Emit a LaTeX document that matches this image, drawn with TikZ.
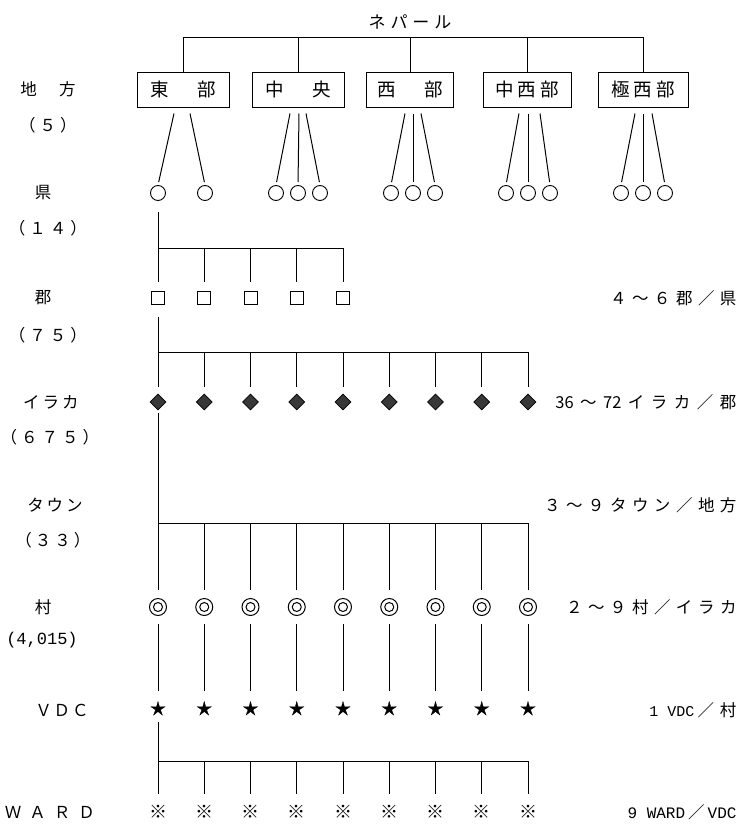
\documentclass[tikz,border=0pt]{standalone}
\usepackage{fontspec}
\setmainfont{Noto Sans CJK JP}
\newfontfamily\monof{Liberation Mono}
\usetikzlibrary{shapes.geometric,calc}
\makeatletter
\newcommand\tk[2]{\begingroup\def\tk@sep{}\@tfor\tk@c:=#2\do{\tk@sep\tk@c\def\tk@sep{\hspace*{#1}}}\endgroup}
\makeatother
\begin{document}
\begin{tikzpicture}[x=1pt,y=-1pt,line width=1pt,
  lvbox/.style={draw,line width=1pt,minimum height=35pt,inner sep=0pt,font=\fontsize{18.5}{21}\selectfont},
  pref/.style={circle,draw,minimum size=15pt,inner sep=0pt,line width=0.9pt},
  dist/.style={rectangle,draw,minimum size=13pt,inner sep=0pt,line width=1pt},
  ilaka/.style={diamond,draw,fill=black!78,minimum width=16pt,minimum height=16pt,inner sep=0pt,line width=0.6pt},
  vill/.style={circle,draw,minimum size=17pt,inner sep=0pt,line width=1pt,
     path picture={\draw[line width=1pt] (path picture bounding box.center) circle (4.5pt);}},
  vdc/.style={star,star points=5,star point ratio=2.9,fill,draw,minimum size=15pt,inner sep=0pt,line width=0.3pt},
  ward/.style={minimum size=16pt,inner sep=0pt,font=\fontsize{18}{18}\selectfont},
  lbl/.style={font=\fontsize{16.5}{19}\selectfont,inner sep=0pt},
  rlbl/.style={lbl,anchor=east}]
\fill[white] (0,0) rectangle (742,825);
\useasboundingbox (0,0) rectangle (742,825);

\node[lbl,font=\fontsize{17}{20}\selectfont] (title) at (410,22) {\tk{5pt}{ネパール}};

\node[lvbox,minimum width=92pt] (b1) at (183,89.5) {\tk{5pt}{東　部}};
\node[lvbox,minimum width=92pt] (b2) at (298,89.5) {\tk{5pt}{中　央}};
\node[lvbox,minimum width=87pt] (b3) at (410,89.5) {\tk{5pt}{西　部}};
\node[lvbox,minimum width=88pt] (b4) at (527,89.5) {\tk{4pt}{中西部}};
\node[lvbox,minimum width=90pt] (b5) at (643,89.5) {\tk{4pt}{極西部}};

\coordinate (topbar) at (0,37);
\draw (b1.north) |- (b5.north |- topbar) -- (b5.north);
\foreach \b in {b2,b3,b4} \draw (\b.north) -- (\b.north |- topbar);

\foreach \n/\x in {c1a/158,c1b/205,c2a/276,c2b/298,c2c/320,c3a/391,c3b/413,c3c/435,c4a/506,c4b/528,c4c/550,c5a/621,c5b/643,c5c/665}
  \node[pref] (\n) at (\x,193) {};

\foreach \b/\c/\dx in {b1/c1a/-9,b1/c1b/7,b2/c2a/-8,b2/c2b/1,b2/c2c/8,b3/c3a/-5,b3/c3b/3,b3/c3c/11,b4/c4a/-8,b4/c4b/1,b4/c4c/13,b5/c5a/-8,b5/c5b/0,b5/c5c/9}
  \draw[shorten >=3pt] ($(\b.south)+(\dx,6)$) -- (\c.north);

\foreach \i in {1,...,5} \node[dist] (sq\i) at ({158+46.25*(\i-1)},298) {};
\foreach \i in {1,...,9} {
  \node[ilaka] (dm\i) at ({158+46.25*(\i-1)},402) {};
  \node[vill] (dc\i) at ({158+46.25*(\i-1)},607) {};
  \node[vdc] (st\i) at ({158+46.25*(\i-1)},709) {};
  \node[ward] (wd\i) at ({158+46.25*(\i-1)},812) {※};
}

% prefecture -> districts
\coordinate (bar2) at (0,248);
\draw[shorten <=11pt] (c1a.south) -- (c1a.south |- bar2);
\draw (sq1.north |- bar2) -- (sq5.north |- bar2);
\foreach \i in {1,...,5} \draw[shorten >=9pt] (sq\i.north |- bar2) -- (sq\i.north);

% district -> ilaka
\coordinate (bar3) at (0,352);
\draw[shorten <=12pt] (sq1.south) -- (sq1.south |- bar3) -- (dm9.north |- bar3);
\foreach \i in {1,...,9} \draw[shorten >=7pt] (dm\i.north |- bar3) -- (dm\i.north);

% ilaka -> villages
\coordinate (bar4) at (0,523);
\draw[shorten <=3pt] (dm1.south) -- (dm1.south |- bar4) -- (dc9.north |- bar4);
\foreach \i in {1,...,9} \draw[shorten >=8pt] (dc\i.north |- bar4) -- (dc\i.north);

% village -> VDC
\foreach \i in {1,...,9} \draw[shorten <=8pt,shorten >=10pt] (dc\i.south) -- (st\i.north);

% VDC -> wards
\coordinate (bar6) at (0,761);
\draw[shorten <=10pt] (st1.south) -- (st1.south |- bar6) -- (wd9.north |- bar6);
\foreach \i in {1,...,9} \draw[shorten >=10pt] (wd\i.north |- bar6) -- (wd\i.north);

% left labels
\node[lbl] (l1) at (48,89) {\tk{3pt}{地　方}};
\node[lbl] (l1n) at (48,125) {\tk{4pt}{（５）}};
\node[lbl] (l2) at (43,193) {県};
\node[lbl] (l2n) at (48,228) {\tk{4pt}{（１４）}};
\node[lbl] (l3) at (43,298) {郡};
\node[lbl] (l3n) at (48,335) {\tk{4pt}{（７５）}};
\node[lbl] (l4) at (51,402) {\tk{3pt}{イラカ}};
\node[lbl] (l4n) at (50,437) {\tk{4pt}{（６７５）}};
\node[lbl] (l5) at (55,505) {\tk{3pt}{タウン}};
\node[lbl] (l5n) at (53,540) {\tk{3pt}{（３３）}};
\node[lbl] (l6) at (43,607) {村};
\node[lbl] (l6n) at (42,640) {{\monof\fontsize{17}{19}\selectfont(4,015)}};
\node[lbl] (l7) at (62,710) {\tk{2pt}{ＶＤＣ}};
\node[lbl] (l8) at (50,812) {\tk{8pt}{ＷＡＲＤ}};

% right labels
\node[rlbl] (r1) at (737,298) {\tk{5.5pt}{４～６郡／県}};
\node[rlbl] (r2) at (737,402) {\tk{6.5pt}{{36}～{72}イラカ／郡}};
\node[rlbl] (r3) at (737,505) {\tk{5.5pt}{３～９タウン／地方}};
\node[rlbl] (r4) at (737,607) {\tk{5.5pt}{２～９村／イラカ}};
\node[rlbl] (r5) at (737,710) {{\monof\fontsize{15}{17}\selectfont 1 VDC}\hspace{3pt}／\hspace{6pt}村};
\node[rlbl] (r6) at (737,812) {{\monof\fontsize{16}{18}\selectfont 9 WARD}\hspace{3pt}／\hspace{3pt}{\monof\fontsize{16}{18}\selectfont VDC}};
\end{tikzpicture}
\end{document}
